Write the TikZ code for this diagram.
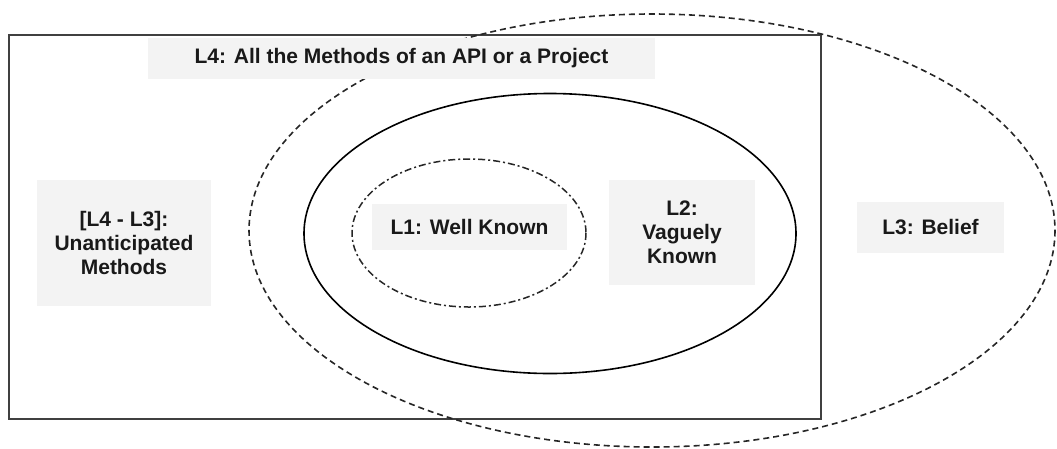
\documentclass[tikz,border=0pt]{standalone}
\usepackage{fontspec}
\setmainfont{Liberation Sans}
\begin{document}
\begin{tikzpicture}[x=1pt,y=-1pt,
  lbl/.style={fill=boxgray,inner sep=0pt,align=center,font=\fontsize{21}{24}\selectfont\bfseries,text=black!90},
  frame/.style={draw=black!75,line width=2.2pt},
  l3line/.style={draw=black!85,line width=1.6pt,dash pattern=on 6pt off 4pt},
  l2line/.style={draw=black,line width=1.6pt},
  l1line/.style={draw=black!85,line width=1.5pt,dash pattern=on 7pt off 3pt on 2pt off 3pt}]
\definecolor{boxgray}{HTML}{F3F3F3}
\useasboundingbox (0,0) rectangle (1057,448);
% outer rectangle L4
\draw[frame] (9,35) rectangle (821,419);
% ellipses
\draw[l3line] (652,230.5) ellipse [x radius=403, y radius=216.5];
\draw[l2line] (550,233.5) ellipse [x radius=246, y radius=140];
\draw[l1line] (469,233) ellipse [x radius=117, y radius=74];
% labels
\node[lbl,minimum width=507pt,minimum height=41pt] (l4) at (401.5,58.5) {L4: All the Methods of an API or a Project};
\node[lbl,minimum width=174pt,minimum height=126pt] (l43) at (124,243) {[L4 - L3]:\\Unanticipated\\Methods};
\node[lbl,minimum width=195pt,minimum height=46pt] (l1) at (469.5,227) {L1: Well Known};
\node[lbl,minimum width=146pt,minimum height=105pt] (l2) at (682,232.5) {L2:\\Vaguely\\Known};
\node[lbl,minimum width=147pt,minimum height=51pt] (l3) at (930.5,227.5) {L3: Belief};
\end{tikzpicture}
\end{document}
